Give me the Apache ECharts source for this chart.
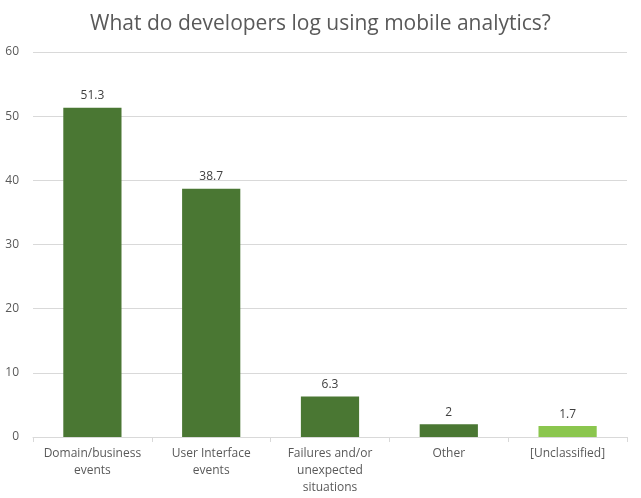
<!DOCTYPE html>
<html>
<head>
    <meta charset="utf-8" />
    <style>
        html, body { margin: 0; padding: 0; background: #fff; }
        #chart { width: 641px; height: 498px; }
    </style>
    <script src="https://cdn.jsdelivr.net/npm/echarts@6/dist/echarts.min.js"></script>
</head>
<body>
    <div id="chart"></div>
    <script type="text/javascript">
        // data
        var categories = ['Domain/business\nevents', 'User Interface\nevents', 'Failures and/or\nunexpected\nsituations', 'Other', '[Unclassified]'];
        var values = [51.3, 38.7, 6.3, 2, 1.7];

        var darkGreen = '#4a7733';
        var lightGreen = '#8bc64e';
        var textColor = '#595959';

        var chart = echarts.init(document.getElementById('chart'));
        var option = {
            animation: false,
            title: {
                text: 'What do developers log using mobile analytics?',
                left: 'center',
                top: 9,
                textStyle: { fontFamily: 'Open Sans', fontSize: 21, fontWeight: 'normal', color: textColor }
            },
            grid: { left: 33, right: 14, top: 52, bottom: 61 },
            xAxis: {
                type: 'category',
                data: categories,
                axisLine: { lineStyle: { color: '#d9d9d9' } },
                axisTick: { show: true, length: 5, lineStyle: { color: '#d9d9d9' } },
                axisLabel: { color: textColor, fontFamily: 'Open Sans', fontSize: 12, lineHeight: 17, margin: 8, interval: 0 }
            },
            yAxis: {
                type: 'value',
                min: 0,
                max: 60,
                interval: 10,
                axisLine: { show: false },
                axisTick: { show: false },
                splitLine: { lineStyle: { color: '#d9d9d9' } },
                axisLabel: { color: textColor, fontFamily: 'Open Sans', fontSize: 12, margin: 14 }
            },
            series: [{
                type: 'bar',
                barWidth: '49%',
                data: values.map(function (v, i) {
                    return { value: v, itemStyle: { color: i === values.length - 1 ? lightGreen : darkGreen } };
                }),
                label: {
                    show: true,
                    position: 'top',
                    distance: 6,
                    color: '#404040',
                    fontFamily: 'Open Sans',
                    fontSize: 12
                }
            }]
        };
        chart.setOption(option);
    </script>
</body>
</html>
